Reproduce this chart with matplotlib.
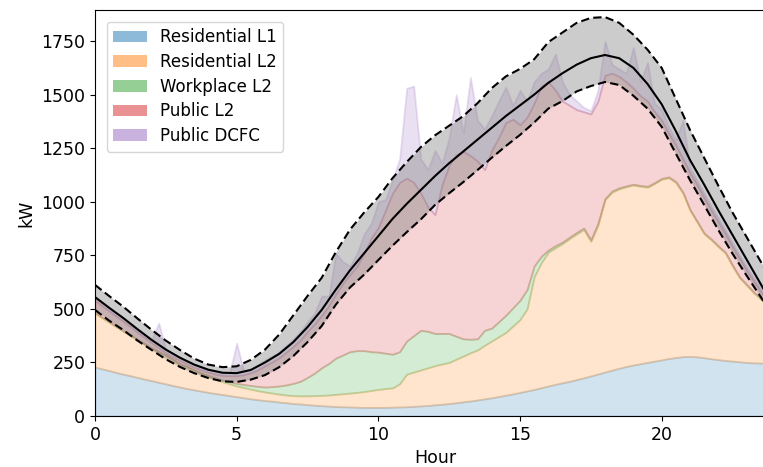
import numpy as np
import matplotlib
matplotlib.use('Agg')
import matplotlib.pyplot as plt
from matplotlib.patches import Patch

# quarter-hour grid for the stacked load profiles
hours = np.arange(0, 24.25, 0.25)

labels = ['Residential L1', 'Residential L2', 'Workplace L2', 'Public L2', 'Public DCFC']
colors = ['tab:blue', 'tab:orange', 'tab:green', 'tab:red', 'tab:purple']

res_l1 = [
    228, 220, 212, 203, 195, 188, 180, 172, 165, 157, 150, 142,
    135, 128, 122, 116, 110, 105, 100, 95, 90, 85, 80, 76,
    72, 69, 65, 62, 58, 56, 53, 50, 48, 46, 44, 43,
    42, 41, 40, 40, 40, 40, 41, 42, 43, 45, 47, 49,
    52, 55, 58, 62, 66, 70, 75, 80, 85, 91, 97, 103,
    110, 117, 124, 132, 140, 148, 155, 162, 170, 178, 187, 196,
    205, 214, 223, 231, 238, 244, 250, 256, 262, 268, 273, 277,
    278, 276, 272, 267, 263, 259, 256, 253, 250, 248, 247, 246,
    245]

# cumulative tops of the stack
res_l2_top = [
    480, 458, 437, 416, 395, 375, 355, 335, 315, 298, 282, 262,
    240, 228, 212, 198, 185, 172, 160, 150, 140, 133, 125, 118,
    112, 107, 102, 98, 95, 94, 94, 95, 96, 98, 101, 104,
    107, 110, 114, 119, 124, 128, 131, 150, 195, 205, 215, 225,
    235, 243, 250, 265, 280, 295, 308, 330, 350, 370, 390, 420,
    450, 500, 650, 715, 765, 785, 805, 828, 850, 870, 815, 890,
    1010, 1045, 1060, 1070, 1078, 1072, 1068, 1085, 1105, 1112, 1090, 1040,
    960, 905, 850, 822, 790, 760, 700, 645, 610, 575, 545, 515,
    490]

workplace_top = [
    483, 461, 440, 419, 398, 378, 358, 338, 318, 301, 285, 265,
    243, 231, 215, 201, 189, 178, 168, 160, 152, 147, 142, 138,
    135, 137, 140, 145, 152, 162, 180, 200, 225, 245, 270, 285,
    300, 305, 305, 300, 298, 293, 288, 300, 350, 375, 400, 395,
    385, 385, 385, 372, 360, 358, 360, 400, 410, 440, 470, 505,
    540, 590, 700, 745, 775, 795, 812, 835, 857, 877, 822, 900,
    1015, 1050, 1065, 1074, 1082, 1076, 1072, 1089, 1109, 1116, 1094, 1044,
    964, 909, 854, 826, 794, 764, 704, 649, 614, 579, 549, 519,
    494]

public_l2_top = [
    540, 515, 490, 466, 442, 417, 391, 366, 342, 318, 296, 277,
    259, 243, 228, 215, 204, 196, 190, 188, 188, 193, 202, 216,
    235, 252, 272, 298, 325, 355, 395, 430, 470, 515, 570, 620,
    660, 700, 760, 830, 880, 960, 1040, 1090, 1110, 1090, 1040, 975,
    940, 1080, 1170, 1220, 1235, 1215, 1190, 1150, 1240, 1300, 1370, 1385,
    1360, 1395, 1460, 1540, 1560, 1520, 1470, 1450, 1430, 1420, 1410, 1470,
    1590, 1600, 1585, 1560, 1530, 1495, 1470, 1420, 1380, 1320, 1265, 1200,
    1135, 1080, 1020, 960, 905, 850, 790, 735, 680, 630, 580, 530,
    500]

total_load = [
    555, 530, 505, 481, 457, 431, 405, 380, 356, 434, 311, 291,
    273, 256, 241, 228, 217, 209, 203, 201, 340, 208, 218, 238,
    262, 280, 300, 330, 360, 395, 440, 480, 560, 560, 760, 720,
    700, 760, 850, 900, 1000, 1010, 1100, 1200, 1530, 1540, 1200, 1150,
    1240, 1180, 1300, 1500, 1320, 1580, 1380, 1340, 1400, 1470, 1535, 1450,
    1520, 1470, 1560, 1600, 1620, 1690, 1560, 1500, 1470, 1440, 1425, 1520,
    1750, 1640, 1620, 1600, 1720, 1560, 1650, 1460, 1430, 1350, 1290, 1380,
    1160, 1100, 1040, 980, 925, 868, 808, 752, 696, 645, 595, 545,
    515]

# half-hour grid for the mean and the bounds
line_hours = np.arange(0, 24.5, 0.5)
mean_load = [
    555, 505, 457, 405, 355, 310, 272, 240, 216, 202, 200, 215,
    250, 290, 345, 415, 495, 590, 680, 760, 840, 920, 990, 1055,
    1120, 1180, 1235, 1290, 1345, 1400, 1450, 1500, 1555, 1600, 1640, 1670,
    1685, 1670, 1625, 1550, 1455, 1330, 1195, 1080, 960, 845, 730, 615,
    500]
upper_load = [
    612, 560, 510, 455, 402, 352, 308, 268, 240, 228, 232, 262,
    310, 380, 470, 560, 645, 765, 870, 950, 1022, 1110, 1185, 1255,
    1310, 1355, 1400, 1460, 1530, 1585, 1620, 1665, 1745, 1790, 1835, 1858,
    1862, 1835, 1780, 1710, 1625, 1480, 1335, 1205, 1075, 950, 835, 720,
    610]
lower_load = [
    495, 445, 401, 352, 308, 265, 229, 200, 177, 162, 159, 170,
    191, 228, 280, 345, 420, 520, 600, 660, 728, 795, 858, 918,
    985, 1040, 1092, 1148, 1205, 1260, 1312, 1370, 1435, 1470, 1515, 1540,
    1559, 1545, 1495, 1435, 1350, 1225, 1101, 985, 868, 758, 655, 555,
    450]


def main():
    levels = np.array([np.zeros(len(hours)), res_l1, res_l2_top, workplace_top,
                       public_l2_top, total_load], dtype=float)
    layers = np.diff(levels, axis=0)

    fig = plt.figure(figsize=(7.63, 4.67), dpi=100)
    ax = fig.add_axes([95 / 763, 51 / 467, 680 / 763, 406 / 467])

    polys = ax.stackplot(hours, *layers, colors=colors, alpha=0.2)
    for poly, c in zip(polys, colors):
        poly.set_edgecolor(matplotlib.colors.to_rgba(c, 0.25))
        poly.set_linewidth(1.3)

    ax.fill_between(line_hours, lower_load, upper_load, color='gray', alpha=0.4, lw=0)
    ax.plot(line_hours, mean_load, 'k-', lw=1.5)
    ax.plot(line_hours, upper_load, 'k--', lw=1.5, dashes=(4, 2))
    ax.plot(line_hours, lower_load, 'k--', lw=1.5, dashes=(4, 2))

    handles = [Patch(facecolor=c, alpha=0.5, label=l) for c, l in zip(colors, labels)]
    ax.legend(handles=handles, loc='upper left', fontsize=12, borderaxespad=0.7,
              labelspacing=0.4)

    ax.set_xlim(0, 24)
    ax.set_ylim(0, 1895)
    ax.set_xticks([0, 5, 10, 15, 20])
    ax.set_yticks(np.arange(0, 2000, 250))
    ax.tick_params(labelsize=12.5)
    ax.set_xlabel('Hour', fontsize=12.5)
    ax.set_ylabel('kW', fontsize=12.5)

    fig.savefig('out.png', dpi=100)
    plt.close(fig)


if __name__ == '__main__':
    main()
